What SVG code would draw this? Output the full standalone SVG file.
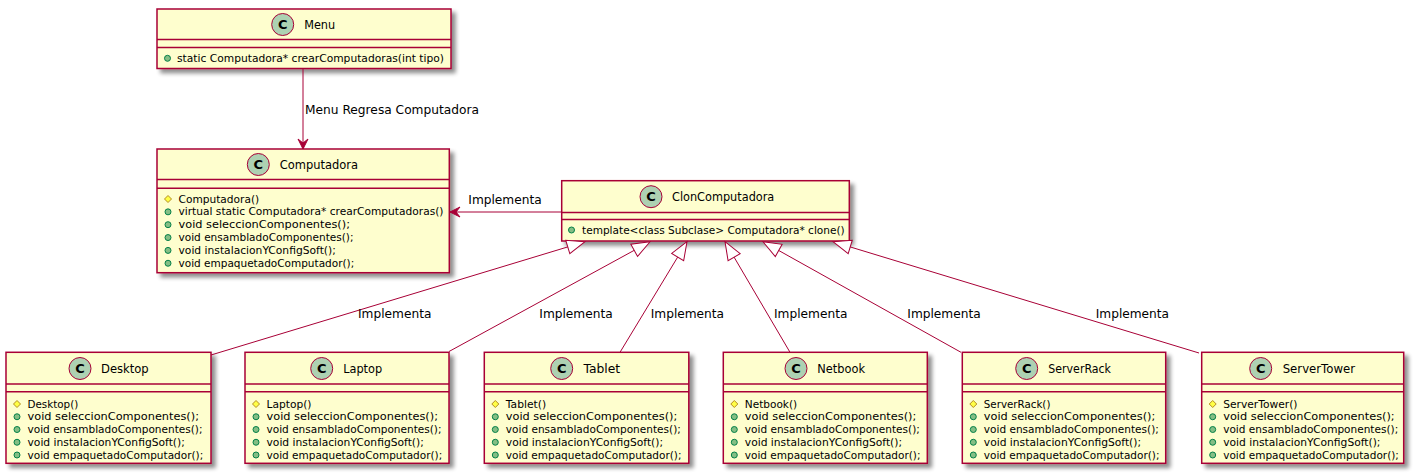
<svg xmlns="http://www.w3.org/2000/svg" width="1416" height="476" viewBox="0 0 1416 476">
<defs>
<filter id="sh" x="-10%" y="-10%" width="130%" height="140%">
<feGaussianBlur in="SourceAlpha" stdDeviation="2"/>
<feOffset dx="4" dy="4" result="b"/>
<feComponentTransfer><feFuncA type="linear" slope="0.45"/></feComponentTransfer>
<feMerge><feMergeNode/><feMergeNode in="SourceGraphic"/></feMerge>
</filter>
<marker id="arr" markerUnits="userSpaceOnUse" orient="auto" refX="0" refY="0" markerWidth="24" markerHeight="24" viewBox="-12 -12 24 24" style="overflow:visible">
<path d="M0,0 L-10,-5 L-6,0 L-10,5 Z" fill="#A80036" stroke="#A80036" stroke-width="1"/>
</marker>
<marker id="tri" markerUnits="userSpaceOnUse" orient="auto" refX="0" refY="0" markerWidth="40" markerHeight="40" viewBox="-20 -20 40 40" style="overflow:visible">
<path d="M0,0 L-18,-7 L-18,7 Z" fill="#FFFFFF" stroke="#A80036" stroke-width="1"/>
</marker>
</defs>
<style>
.box{fill:#FEFECE;stroke:#A80036;stroke-width:1.5;filter:url(#sh)}
.sep{stroke:#A80036;stroke-width:1.5}
.ci{fill:#ADD1B2;stroke:#A80036;stroke-width:1}
.cl{font-family:"DejaVu Sans",sans-serif;font-size:13px;font-weight:bold;fill:#000;text-anchor:middle}
.t{font-family:"DejaVu Sans",sans-serif;font-size:11.5px;fill:#000}
.m{font-family:"DejaVu Sans",sans-serif;font-size:11px;fill:#000}
.lbl{font-family:"DejaVu Sans",sans-serif;font-size:12px;fill:#000}
.pub{fill:#84BE84;stroke:#038048;stroke-width:1}
.pro{fill:#FFFF44;stroke:#B38D22;stroke-width:1}
.ln{stroke:#A80036;stroke-width:1;fill:none}
</style>
<rect width="1416" height="476" fill="#FFFFFF"/>

<g id="Menu">
<rect class="box" x="157" y="9" width="294" height="59.5"/>
<line class="sep" x1="157" y1="39.5" x2="451" y2="39.5"/>
<line class="sep" x1="157" y1="47.5" x2="451" y2="47.5"/>
<circle class="ci" cx="282.7" cy="24.5" r="11"/>
<text class="cl" x="282.7" y="29.2">C</text>
<text class="t" x="304.2" y="28.6" textLength="31" lengthAdjust="spacingAndGlyphs">Menu</text>
<circle class="pub" cx="167.5" cy="58.3" r="3"/>
<text class="m" x="177" y="61.8" textLength="267" lengthAdjust="spacingAndGlyphs">static Computadora* crearComputadoras(int tipo)</text>
</g>

<g id="Computadora">
<rect class="box" x="157" y="149" width="292.3" height="123.7"/>
<line class="sep" x1="157" y1="179.5" x2="449.3" y2="179.5"/>
<line class="sep" x1="157" y1="188.3" x2="449.3" y2="188.3"/>
<circle class="ci" cx="258.3" cy="164.5" r="11"/>
<text class="cl" x="258.3" y="169.2">C</text>
<text class="t" x="279.8" y="168.6" textLength="78.3" lengthAdjust="spacingAndGlyphs">Computadora</text>
<path class="pro" d="M168,195.5 L171.5,199 L168,202.5 L164.5,199 Z"/>
<text class="m" x="178.5" y="202.5" textLength="80.7" lengthAdjust="spacingAndGlyphs">Computadora()</text>
<circle class="pub" cx="168" cy="211.85" r="3"/>
<text class="m" x="178.5" y="215.35" textLength="265" lengthAdjust="spacingAndGlyphs">virtual static Computadora* crearComputadoras()</text>
<circle class="pub" cx="168" cy="224.7" r="3"/>
<text class="m" x="178.5" y="228.2" textLength="171.5" lengthAdjust="spacingAndGlyphs">void seleccionComponentes();</text>
<circle class="pub" cx="168" cy="237.55" r="3"/>
<text class="m" x="178.5" y="241.05" textLength="175" lengthAdjust="spacingAndGlyphs">void ensambladoComponentes();</text>
<circle class="pub" cx="168" cy="250.4" r="3"/>
<text class="m" x="178.5" y="253.9" textLength="157.3" lengthAdjust="spacingAndGlyphs">void instalacionYConfigSoft();</text>
<circle class="pub" cx="168" cy="263.25" r="3"/>
<text class="m" x="178.5" y="266.75" textLength="175.7" lengthAdjust="spacingAndGlyphs">void empaquetadoComputador();</text>
</g>

<g id="ClonComputadora">
<rect class="box" x="561.7" y="180.7" width="287.6" height="60.3"/>
<line class="sep" x1="561.7" y1="212.5" x2="849.3" y2="212.5"/>
<line class="sep" x1="561.7" y1="219.5" x2="849.3" y2="219.5"/>
<circle class="ci" cx="651" cy="196.7" r="11"/>
<text class="cl" x="651" y="201.4">C</text>
<text class="t" x="672" y="200.9" textLength="102.3" lengthAdjust="spacingAndGlyphs">ClonComputadora</text>
<circle class="pub" cx="571.5" cy="230" r="3"/>
<text class="m" x="582" y="233.5" textLength="262.7" lengthAdjust="spacingAndGlyphs">template&lt;class Subclase&gt; Computadora* clone()</text>
</g>

<g id="Desktop">
<rect class="box" x="6" y="352.3" width="205" height="111"/>
<line class="sep" x1="6" y1="384" x2="211" y2="384"/>
<line class="sep" x1="6" y1="391.7" x2="211" y2="391.7"/>
<circle class="ci" cx="80" cy="368.5" r="11"/>
<text class="cl" x="80" y="373.2">C</text>
<text class="t" x="101" y="372.5" textLength="47.7" lengthAdjust="spacingAndGlyphs">Desktop</text>
<path class="pro" d="M17,400.5 L20.5,404 L17,407.5 L13.5,404 Z"/>
<text class="m" x="27.5" y="407.5" textLength="50.7" lengthAdjust="spacingAndGlyphs">Desktop()</text>
<circle class="pub" cx="17" cy="416.75" r="3"/>
<text class="m" x="27.5" y="420.25" textLength="171.5" lengthAdjust="spacingAndGlyphs">void seleccionComponentes();</text>
<circle class="pub" cx="17" cy="429.5" r="3"/>
<text class="m" x="27.5" y="433" textLength="175" lengthAdjust="spacingAndGlyphs">void ensambladoComponentes();</text>
<circle class="pub" cx="17" cy="442.25" r="3"/>
<text class="m" x="27.5" y="445.75" textLength="157.3" lengthAdjust="spacingAndGlyphs">void instalacionYConfigSoft();</text>
<circle class="pub" cx="17" cy="455" r="3"/>
<text class="m" x="27.5" y="458.5" textLength="175.7" lengthAdjust="spacingAndGlyphs">void empaquetadoComputador();</text>
</g>

<g id="Laptop">
<rect class="box" x="245" y="352.3" width="204" height="111"/>
<line class="sep" x1="245" y1="384" x2="449" y2="384"/>
<line class="sep" x1="245" y1="391.7" x2="449" y2="391.7"/>
<circle class="ci" cx="321.7" cy="368.5" r="11"/>
<text class="cl" x="321.7" y="373.2">C</text>
<text class="t" x="343.2" y="372.5" textLength="39" lengthAdjust="spacingAndGlyphs">Laptop</text>
<path class="pro" d="M256,400.5 L259.5,404 L256,407.5 L252.5,404 Z"/>
<text class="m" x="266.5" y="407.5" textLength="45" lengthAdjust="spacingAndGlyphs">Laptop()</text>
<circle class="pub" cx="256" cy="416.75" r="3"/>
<text class="m" x="266.5" y="420.25" textLength="171.5" lengthAdjust="spacingAndGlyphs">void seleccionComponentes();</text>
<circle class="pub" cx="256" cy="429.5" r="3"/>
<text class="m" x="266.5" y="433" textLength="175" lengthAdjust="spacingAndGlyphs">void ensambladoComponentes();</text>
<circle class="pub" cx="256" cy="442.25" r="3"/>
<text class="m" x="266.5" y="445.75" textLength="157.3" lengthAdjust="spacingAndGlyphs">void instalacionYConfigSoft();</text>
<circle class="pub" cx="256" cy="455" r="3"/>
<text class="m" x="266.5" y="458.5" textLength="175.7" lengthAdjust="spacingAndGlyphs">void empaquetadoComputador();</text>
</g>

<g id="Tablet">
<rect class="box" x="484.3" y="352.3" width="204.5" height="111"/>
<line class="sep" x1="484.3" y1="384" x2="688.8" y2="384"/>
<line class="sep" x1="484.3" y1="391.7" x2="688.8" y2="391.7"/>
<circle class="ci" cx="561.7" cy="368.5" r="11"/>
<text class="cl" x="561.7" y="373.2">C</text>
<text class="t" x="583.5" y="372.5" textLength="36.7" lengthAdjust="spacingAndGlyphs">Tablet</text>
<path class="pro" d="M495.3,400.5 L498.8,404 L495.3,407.5 L491.8,404 Z"/>
<text class="m" x="505.8" y="407.5" textLength="40.3" lengthAdjust="spacingAndGlyphs">Tablet()</text>
<circle class="pub" cx="495.3" cy="416.75" r="3"/>
<text class="m" x="505.8" y="420.25" textLength="171.5" lengthAdjust="spacingAndGlyphs">void seleccionComponentes();</text>
<circle class="pub" cx="495.3" cy="429.5" r="3"/>
<text class="m" x="505.8" y="433" textLength="175" lengthAdjust="spacingAndGlyphs">void ensambladoComponentes();</text>
<circle class="pub" cx="495.3" cy="442.25" r="3"/>
<text class="m" x="505.8" y="445.75" textLength="157.3" lengthAdjust="spacingAndGlyphs">void instalacionYConfigSoft();</text>
<circle class="pub" cx="495.3" cy="455" r="3"/>
<text class="m" x="505.8" y="458.5" textLength="175.7" lengthAdjust="spacingAndGlyphs">void empaquetadoComputador();</text>
</g>

<g id="Netbook">
<rect class="box" x="723.3" y="352.3" width="204" height="111"/>
<line class="sep" x1="723.3" y1="384" x2="927.3" y2="384"/>
<line class="sep" x1="723.3" y1="391.7" x2="927.3" y2="391.7"/>
<circle class="ci" cx="796" cy="368.5" r="11"/>
<text class="cl" x="796" y="373.2">C</text>
<text class="t" x="817.3" y="372.5" textLength="47.7" lengthAdjust="spacingAndGlyphs">Netbook</text>
<path class="pro" d="M734.3,400.5 L737.8,404 L734.3,407.5 L730.8,404 Z"/>
<text class="m" x="744.8" y="407.5" textLength="52.4" lengthAdjust="spacingAndGlyphs">Netbook()</text>
<circle class="pub" cx="734.3" cy="416.75" r="3"/>
<text class="m" x="744.8" y="420.25" textLength="171.5" lengthAdjust="spacingAndGlyphs">void seleccionComponentes();</text>
<circle class="pub" cx="734.3" cy="429.5" r="3"/>
<text class="m" x="744.8" y="433" textLength="175" lengthAdjust="spacingAndGlyphs">void ensambladoComponentes();</text>
<circle class="pub" cx="734.3" cy="442.25" r="3"/>
<text class="m" x="744.8" y="445.75" textLength="157.3" lengthAdjust="spacingAndGlyphs">void instalacionYConfigSoft();</text>
<circle class="pub" cx="734.3" cy="455" r="3"/>
<text class="m" x="744.8" y="458.5" textLength="175.7" lengthAdjust="spacingAndGlyphs">void empaquetadoComputador();</text>
</g>

<g id="ServerRack">
<rect class="box" x="962.3" y="352.3" width="203.4" height="111"/>
<line class="sep" x1="962.3" y1="384" x2="1165.7" y2="384"/>
<line class="sep" x1="962.3" y1="391.7" x2="1165.7" y2="391.7"/>
<circle class="ci" cx="1026.7" cy="368.5" r="11"/>
<text class="cl" x="1026.7" y="373.2">C</text>
<text class="t" x="1048.3" y="372.5" textLength="62.7" lengthAdjust="spacingAndGlyphs">ServerRack</text>
<path class="pro" d="M973.3,400.5 L976.8,404 L973.3,407.5 L969.8,404 Z"/>
<text class="m" x="983.8" y="407.5" textLength="66.6" lengthAdjust="spacingAndGlyphs">ServerRack()</text>
<circle class="pub" cx="973.3" cy="416.75" r="3"/>
<text class="m" x="983.8" y="420.25" textLength="171.5" lengthAdjust="spacingAndGlyphs">void seleccionComponentes();</text>
<circle class="pub" cx="973.3" cy="429.5" r="3"/>
<text class="m" x="983.8" y="433" textLength="175" lengthAdjust="spacingAndGlyphs">void ensambladoComponentes();</text>
<circle class="pub" cx="973.3" cy="442.25" r="3"/>
<text class="m" x="983.8" y="445.75" textLength="157.3" lengthAdjust="spacingAndGlyphs">void instalacionYConfigSoft();</text>
<circle class="pub" cx="973.3" cy="455" r="3"/>
<text class="m" x="983.8" y="458.5" textLength="175.7" lengthAdjust="spacingAndGlyphs">void empaquetadoComputador();</text>
</g>

<g id="ServerTower">
<rect class="box" x="1201.7" y="352.3" width="202" height="111"/>
<line class="sep" x1="1201.7" y1="384" x2="1403.7" y2="384"/>
<line class="sep" x1="1201.7" y1="391.7" x2="1403.7" y2="391.7"/>
<circle class="ci" cx="1260.7" cy="368.5" r="11"/>
<text class="cl" x="1260.7" y="373.2">C</text>
<text class="t" x="1282.7" y="372.5" textLength="72.3" lengthAdjust="spacingAndGlyphs">ServerTower</text>
<path class="pro" d="M1212.7,400.5 L1216.2,404 L1212.7,407.5 L1209.2,404 Z"/>
<text class="m" x="1223.2" y="407.5" textLength="74.3" lengthAdjust="spacingAndGlyphs">ServerTower()</text>
<circle class="pub" cx="1212.7" cy="416.75" r="3"/>
<text class="m" x="1223.2" y="420.25" textLength="171.5" lengthAdjust="spacingAndGlyphs">void seleccionComponentes();</text>
<circle class="pub" cx="1212.7" cy="429.5" r="3"/>
<text class="m" x="1223.2" y="433" textLength="175" lengthAdjust="spacingAndGlyphs">void ensambladoComponentes();</text>
<circle class="pub" cx="1212.7" cy="442.25" r="3"/>
<text class="m" x="1223.2" y="445.75" textLength="157.3" lengthAdjust="spacingAndGlyphs">void instalacionYConfigSoft();</text>
<circle class="pub" cx="1212.7" cy="455" r="3"/>
<text class="m" x="1223.2" y="458.5" textLength="175.7" lengthAdjust="spacingAndGlyphs">void empaquetadoComputador();</text>
</g>

<g id="connectors">
<path class="ln" d="M303,69 L303,149" marker-end="url(#arr)"/>
<text class="lbl" x="305" y="114.2" textLength="174" lengthAdjust="spacingAndGlyphs">Menu Regresa Computadora</text>
<path class="ln" d="M561.7,212 L450,212" marker-end="url(#arr)"/>
<text class="lbl" x="468.3" y="204.2" textLength="73.4" lengthAdjust="spacingAndGlyphs">Implementa</text>
<path class="ln" d="M211,355 L585,241.7" marker-end="url(#tri)"/>
<path class="ln" d="M449,351.5 L650,241.7" marker-end="url(#tri)"/>
<path class="ln" d="M620,352.3 L687,241.7" marker-end="url(#tri)"/>
<path class="ln" d="M790,352.3 L725,241.7" marker-end="url(#tri)"/>
<path class="ln" d="M961,352.3 L763,241.7" marker-end="url(#tri)"/>
<path class="ln" d="M1199,353 L833,241.7" marker-end="url(#tri)"/>
<text class="lbl" x="358" y="317.8" textLength="73.4" lengthAdjust="spacingAndGlyphs">Implementa</text>
<text class="lbl" x="539.3" y="317.8" textLength="73.4" lengthAdjust="spacingAndGlyphs">Implementa</text>
<text class="lbl" x="650.7" y="317.8" textLength="73.4" lengthAdjust="spacingAndGlyphs">Implementa</text>
<text class="lbl" x="774" y="317.8" textLength="73.4" lengthAdjust="spacingAndGlyphs">Implementa</text>
<text class="lbl" x="907.3" y="317.8" textLength="73.4" lengthAdjust="spacingAndGlyphs">Implementa</text>
<text class="lbl" x="1095.7" y="317.8" textLength="73.4" lengthAdjust="spacingAndGlyphs">Implementa</text>
</g>
</svg>
